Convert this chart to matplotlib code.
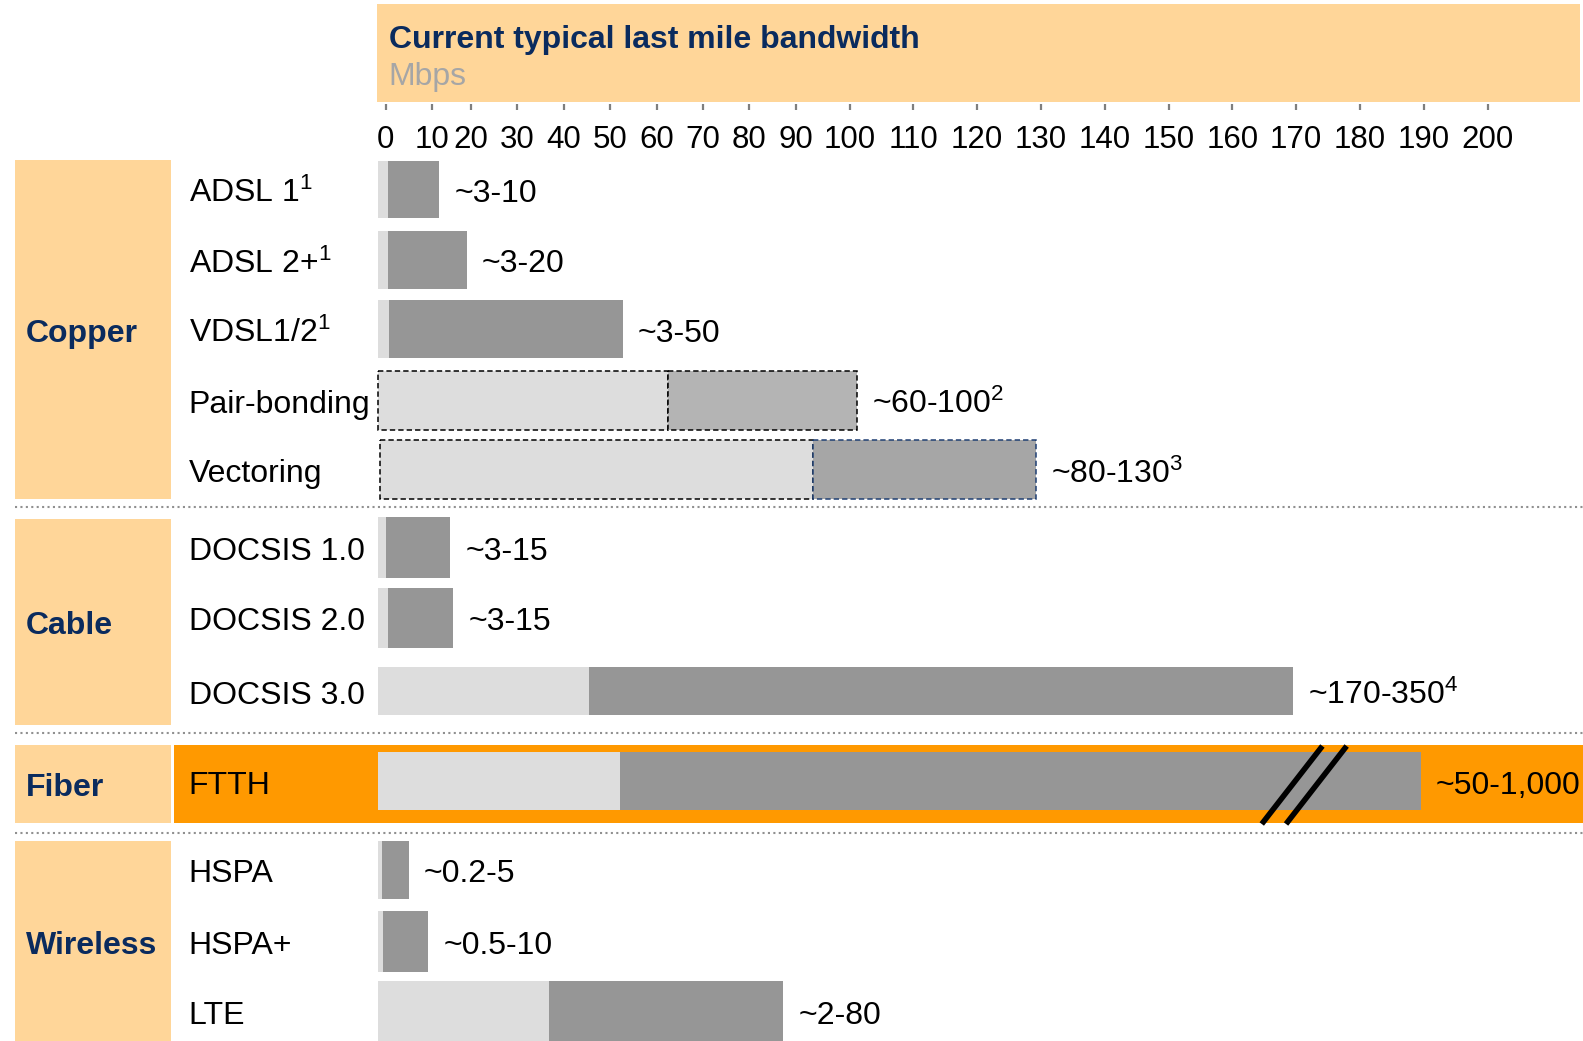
import numpy as np
import matplotlib.pyplot as plt
from matplotlib.patches import Rectangle

plt.rcParams['font.family'] = ['Liberation Sans', 'DejaVu Sans']
plt.rcParams['mathtext.fontset'] = 'custom'
plt.rcParams['mathtext.rm'] = 'Liberation Sans'
plt.rcParams['mathtext.it'] = 'Liberation Sans:italic'
plt.rcParams['mathtext.bf'] = 'Liberation Sans:bold'

# ---- data (Mbps, read on the chart's own uneven axis) ----
groups = ['Copper', 'Cable', 'Fiber', 'Wireless']
techs = ['ADSL 1$^{1}$', 'ADSL 2+$^{1}$', 'VDSL1/2$^{1}$', 'Pair-bonding', 'Vectoring',
         'DOCSIS 1.0', 'DOCSIS 2.0', 'DOCSIS 3.0', 'FTTH',
         'HSPA', 'HSPA+', 'LTE']
bar_start = [-1.7, -1.7, -1.7, -1.7, -1.3, -1.7, -1.7, -1.7, -1.7, -1.7, -1.7, -1.7]
bar_low = [0.4, 0.4, 0.7, 62.5, 93.1, 0.0, 0.4, 45.4, 52.2, -0.9, -0.5, 36.9]
bar_high = [11.9, 18.9, 52.7, 101.1, 129.2, 14.7, 15.5, 169.5, 189.5, 5.0, 9.2, 87.3]
value_labels = ['~3-10', '~3-20', '~3-50', '~60-100$^{2}$', '~80-130$^{3}$',
                '~3-15', '~3-15', '~170-350$^{4}$', '~50-1,000',
                '~0.2-5', '~0.5-10', '~2-80']
tick_values = [0, 10, 20, 30, 40, 50, 60, 70, 80, 90, 100,
               110, 120, 130, 140, 150, 160, 170, 180, 190, 200]

# the original axis is not linear: spacing changes around 10-20 and above 100
KNOT_V = [-20, 0, 10, 20, 90, 100, 110, 200, 300]
KNOT_PX = [293.7, 385.7, 431.7, 471.0, 795.7, 850.0, 913.3, 1487.7, 2126.0]

# ---- layout (pixels from top) ----
W, H = 1583, 1041
row_y = [189.3, 260.0, 329.1, 400.3, 469.5, 547.2, 617.9, 691.0, 781.0, 869.8, 941.5, 1011.0]
row_h = [57.6, 57.5, 58.5, 59.6, 58.5, 60.6, 60.6, 47.5, 58.0, 57.5, 61.5, 59.7]
group_top = [159.5, 519.0, 745.0, 841.0]
group_bot = [498.7, 725.0, 823.0, 1041.0]
sep_y = [506.8, 733.0, 833.0]
DY = 4.5  # text sits a little lower than matplotlib's bbox centre

light = '#DDDDDD'
dark = ['#969696'] * 3 + ['#B4B4B4', '#A6A6A6'] + ['#969696'] * 7
navy = '#0A2B5E'
peach = '#FFD699'
orange = '#FF9900'
FS = 23

fig = plt.figure(figsize=(W / 100, H / 100), dpi=100)

# background axes in pixel units
bg = fig.add_axes([0, 0, 1, 1])
bg.set_xlim(0, W)
bg.set_ylim(H, 0)
bg.axis('off')

bg.add_patch(Rectangle((376.6, 4), 1580 - 376.6, 98, color=peach, lw=0))
bg.text(388.7, 35.3 + DY, 'Current typical last mile bandwidth', fontsize=FS,
        fontweight='bold', color=navy, va='center')
bg.text(388.7, 73 + DY, 'Mbps', fontsize=FS, color='#A6A6A6', va='center')

for g, t, b in zip(groups, group_top, group_bot):
    bg.add_patch(Rectangle((15.1, t), 155.5, b - t, color=peach, lw=0))
    bg.text(26.2, (t + b) / 2 + DY, g, fontsize=FS, fontweight='bold', color=navy, va='center')

# FTTH highlight band
bg.add_patch(Rectangle((173.6, group_top[2]), W - 173.6, group_bot[2] - group_top[2],
                       color=orange, lw=0))

for y in sep_y:
    bg.plot([15, W], [y, y], color='#909090', lw=1.5, ls=(0, (1, 1.6)))

for name, y in zip(techs, row_y):
    bg.text(188.8, y + DY, name, fontsize=FS, va='center', color='black')

# bar axes, shares the pixel y range
x0 = np.interp(-10, KNOT_V, KNOT_PX)
ax = fig.add_axes([x0 / W, 0, (W - x0) / W, 1])
ax.set_xscale('function', functions=(lambda v: np.interp(v, KNOT_V, KNOT_PX),
                                     lambda p: np.interp(p, KNOT_PX, KNOT_V)))
ax.set_xlim(-10, np.interp(W, KNOT_PX, KNOT_V))
ax.set_ylim(H, 0)
ax.axis('off')

ax.vlines(tick_values, 104, 110, color='#7F7F7F', lw=1.6)
for v in tick_values:
    ax.text(v, 135 + DY, str(v), fontsize=22.5, ha='center', va='center')

dash = (0, (3.5, 2))
for i in range(len(techs)):
    kw_l, kw_d = {}, {}
    if techs[i] == 'Pair-bonding':
        kw_l = dict(edgecolor='black', linestyle=dash, linewidth=1.1)
        kw_d = dict(edgecolor='black', linestyle=dash, linewidth=1.1)
    elif techs[i] == 'Vectoring':
        kw_l = dict(edgecolor='black', linestyle=dash, linewidth=1.1)
        kw_d = dict(edgecolor='#1F3F73', linestyle=dash, linewidth=1.1)
    ax.barh(row_y[i], bar_low[i] - bar_start[i], left=bar_start[i], height=row_h[i],
            color=light, **kw_l)
    ax.barh(row_y[i], bar_high[i] - bar_low[i], left=bar_low[i], height=row_h[i],
            color=dark[i], **kw_d)
    ax.annotate(value_labels[i], xy=(bar_high[i], row_y[i]), xytext=(11, -DY * 0.72),
                textcoords='offset points', fontsize=FS, va='center')

# axis break marks on the FTTH bar
for a, b in [(164.6, 174.1), (168.4, 177.9)]:
    ax.plot([a, b], [824, 746], color='black', lw=4, solid_capstyle='butt')

fig.savefig('out.png', dpi=100)
